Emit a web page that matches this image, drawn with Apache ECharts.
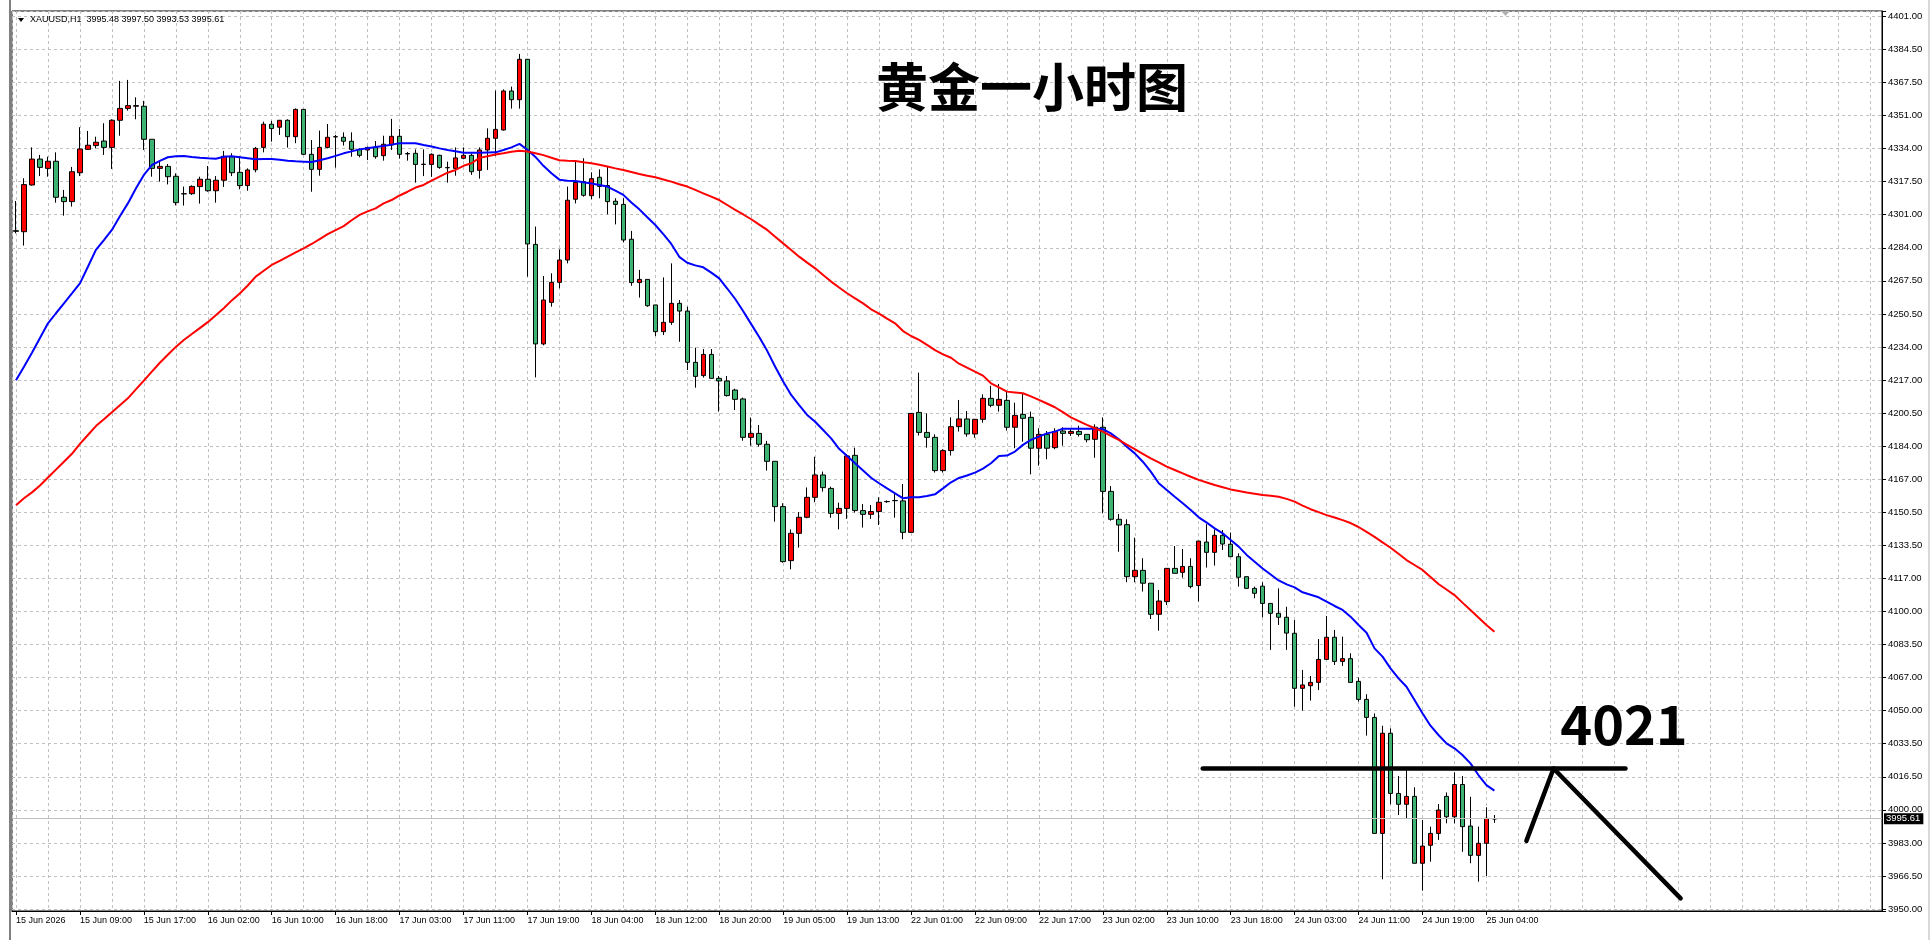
<!DOCTYPE html>
<html>
<head>
<meta charset="utf-8">
<title>XAUUSD H1</title>
<script src="https://cdn.jsdelivr.net/npm/echarts@6/dist/echarts.min.js"></script>
<style>
  html, body { margin: 0; padding: 0; background: #fff; }
  #chart { width: 1932px; height: 940px; }
</style>
</head>
<body>
<div id="chart"></div>
<script>
// time labels, one every 8 hourly bars
const xTickLabels = ['15 Jun 2026', '15 Jun 09:00', '15 Jun 17:00', '16 Jun 02:00', '16 Jun 10:00', '16 Jun 18:00',
  '17 Jun 03:00', '17 Jun 11:00', '17 Jun 19:00', '18 Jun 04:00', '18 Jun 12:00', '18 Jun 20:00',
  '19 Jun 05:00', '19 Jun 13:00', '22 Jun 01:00', '22 Jun 09:00', '22 Jun 17:00', '23 Jun 02:00',
  '23 Jun 10:00', '23 Jun 18:00', '24 Jun 03:00', '24 Jun 11:00', '24 Jun 19:00', '25 Jun 04:00']

// price scale labels, bottom to top
const yTickLabels = ['3950.00', '3966.50', '3983.00', '4000.00', '4016.50', '4033.50', '4050.00', '4067.00',
  '4083.50', '4100.00', '4117.00', '4133.50', '4150.50', '4167.00', '4184.00', '4200.50', '4217.00',
  '4234.00', '4250.50', '4267.50', '4284.00', '4301.00', '4317.50', '4334.00', '4351.00', '4367.50',
  '4384.50', '4401.00']

const opens = [
  4292.7, 4292.2, 4315.8, 4328.9, 4324.2, 4327.8, 4309.6, 4307.4, 4322.0, 4333.8,
  4335.7, 4338.0, 4334.8, 4348.5, 4354.5, 4355.6, 4355.6, 4338.9, 4324.2, 4325.2,
  4320.2, 4311.4, 4311.4, 4315.0, 4318.7, 4312.9, 4318.2, 4330.1, 4322.2, 4315.5,
  4323.5, 4334.8, 4346.5, 4345.0, 4348.5, 4340.2, 4354.0, 4331.3, 4323.7, 4334.8,
  4340.1, 4339.9, 4337.9, 4333.8, 4333.5, 4334.8, 4330.6, 4336.0, 4340.4, 4331.7,
  4331.8, 4326.2, 4326.2, 4330.8, 4324.6, 4324.2, 4329.3, 4330.8, 4323.2, 4333.5,
  4339.4, 4343.6, 4363.3, 4358.9, 4379.3, 4285.8, 4235.5, 4256.5, 4266.6, 4277.9,
  4308.6, 4317.5, 4310.4, 4319.7, 4315.5, 4307.6, 4306.0, 4288.4, 4266.5, 4268.1,
  4255.2, 4241.7, 4246.4, 4256.0, 4252.1, 4226.2, 4219.5, 4230.2, 4218.1, 4216.8,
  4212.2, 4207.7, 4188.3, 4190.3, 4184.8, 4176.2, 4153.3, 4126.0, 4139.8, 4147.9,
  4158.0, 4169.3, 4162.5, 4149.9, 4152.4, 4179.2, 4151.3, 4149.4, 4150.8, 4155.8,
  4156.4, 4156.2, 4140.3, 4200.9, 4190.8, 4188.3, 4171.5, 4181.6, 4193.7, 4197.6,
  4190.0, 4197.4, 4208.0, 4204.5, 4207.0, 4193.4, 4199.9, 4198.4, 4182.8, 4189.8,
  4183.1, 4191.5, 4190.3, 4191.3, 4189.8, 4187.3, 4193.4, 4161.0, 4146.9, 4144.2,
  4117.9, 4121.1, 4114.6, 4098.9, 4105.3, 4122.1, 4120.1, 4123.1, 4113.4, 4135.4,
  4130.2, 4138.8, 4134.3, 4128.0, 4117.9, 4112.0, 4113.1, 4104.4, 4099.4, 4097.4,
  4089.3, 4061.5, 4062.8, 4064.5, 4076.1, 4087.3, 4075.1, 4076.5, 4065.0, 4055.9,
  4046.8, 3988.2, 4038.8, 4008.4, 4002.9, 4006.9, 3973.1, 3982.2, 3988.2, 4006.9,
  3996.6, 4012.9, 3991.9, 3977.1, 3983.2, 3995.48
]

const highs = [
  4307.7, 4319.2, 4334.8, 4331.0, 4330.1, 4332.3, 4313.3, 4324.9, 4345.0, 4343.1,
  4340.2, 4347.0, 4349.0, 4368.4, 4368.9, 4360.1, 4358.3, 4338.9, 4327.6, 4326.4,
  4321.7, 4315.0, 4315.6, 4320.0, 4325.4, 4320.3, 4333.0, 4331.8, 4330.5, 4324.2,
  4335.0, 4347.8, 4348.2, 4348.6, 4349.0, 4354.5, 4354.2, 4338.5, 4343.3, 4346.6,
  4341.1, 4342.4, 4342.4, 4334.3, 4335.2, 4338.0, 4340.7, 4349.2, 4344.1, 4332.5,
  4333.8, 4333.8, 4331.8, 4331.1, 4327.6, 4334.8, 4334.8, 4331.8, 4334.8, 4344.4,
  4363.5, 4364.1, 4365.5, 4382.0, 4379.5, 4294.8, 4269.8, 4271.2, 4283.3, 4315.0,
  4327.6, 4329.3, 4322.2, 4323.7, 4325.1, 4309.1, 4309.1, 4292.6, 4272.9, 4268.1,
  4255.2, 4269.1, 4276.2, 4257.7, 4254.3, 4233.6, 4232.9, 4232.9, 4219.3, 4219.3,
  4212.9, 4208.4, 4198.3, 4194.5, 4186.5, 4176.2, 4155.0, 4141.8, 4150.6, 4163.0,
  4178.5, 4171.0, 4163.4, 4155.3, 4179.9, 4183.1, 4154.6, 4154.1, 4158.0, 4156.4,
  4160.0, 4164.7, 4200.4, 4221.0, 4200.4, 4189.8, 4182.3, 4198.4, 4207.2, 4201.6,
  4197.6, 4210.0, 4214.3, 4215.3, 4211.7, 4205.8, 4210.6, 4201.3, 4192.9, 4191.5,
  4192.9, 4193.4, 4192.6, 4194.2, 4189.8, 4194.9, 4198.4, 4163.7, 4149.6, 4146.9,
  4137.6, 4127.2, 4114.6, 4111.2, 4122.1, 4133.4, 4131.9, 4127.2, 4135.9, 4144.4,
  4141.8, 4141.5, 4140.2, 4129.7, 4117.9, 4112.9, 4115.1, 4104.4, 4112.0, 4102.7,
  4096.0, 4070.8, 4067.7, 4086.4, 4098.0, 4091.0, 4087.6, 4079.2, 4067.0, 4058.5,
  4048.8, 4042.6, 4041.3, 4017.2, 4020.6, 4011.5, 3995.0, 3991.6, 4003.0, 4008.9,
  4019.1, 4017.2, 4006.7, 3991.6, 4001.4, 3997.50
]

const lows = [
  4291.4, 4285.2, 4315.5, 4320.3, 4320.0, 4306.9, 4300.3, 4304.9, 4320.3, 4333.5,
  4334.3, 4331.0, 4323.9, 4340.7, 4353.4, 4349.0, 4333.5, 4320.0, 4317.5, 4316.1,
  4305.5, 4305.4, 4310.8, 4306.4, 4312.4, 4306.9, 4314.8, 4320.3, 4313.6, 4312.9,
  4322.2, 4332.3, 4337.7, 4341.1, 4334.7, 4336.9, 4331.0, 4312.4, 4320.5, 4334.3,
  4324.6, 4335.7, 4330.1, 4329.8, 4328.4, 4329.1, 4328.1, 4333.5, 4329.1, 4328.1,
  4317.0, 4320.3, 4319.9, 4324.0, 4317.0, 4320.5, 4328.8, 4320.9, 4319.0, 4323.4,
  4330.5, 4343.3, 4354.4, 4354.4, 4269.5, 4218.6, 4234.8, 4254.3, 4263.6, 4276.2,
  4306.5, 4309.9, 4308.6, 4309.1, 4301.0, 4295.9, 4286.8, 4264.9, 4258.9, 4254.3,
  4239.5, 4240.0, 4245.1, 4236.6, 4222.3, 4213.4, 4218.5, 4218.1, 4201.3, 4208.9,
  4202.1, 4186.6, 4184.1, 4183.6, 4171.5, 4145.7, 4125.0, 4121.6, 4132.6, 4147.4,
  4155.5, 4160.9, 4147.7, 4141.8, 4147.1, 4150.3, 4142.7, 4147.1, 4144.0, 4155.2,
  4147.7, 4136.8, 4140.0, 4189.2, 4183.1, 4170.5, 4170.5, 4179.1, 4191.2, 4188.6,
  4188.1, 4195.7, 4203.5, 4201.3, 4191.7, 4182.8, 4186.1, 4169.6, 4174.0, 4177.2,
  4182.3, 4184.1, 4189.0, 4188.7, 4185.8, 4178.0, 4149.9, 4146.2, 4130.5, 4115.1,
  4115.1, 4110.4, 4096.5, 4090.6, 4103.6, 4119.6, 4117.4, 4112.0, 4105.3, 4122.5,
  4123.5, 4131.4, 4128.0, 4112.9, 4112.0, 4107.0, 4097.4, 4080.9, 4093.5, 4080.9,
  4052.2, 4050.2, 4055.3, 4060.6, 4076.1, 4073.3, 4072.8, 4064.5, 4054.8, 4037.6,
  3988.2, 3965.0, 4002.9, 3997.5, 3995.8, 3973.1, 3959.3, 3973.9, 3984.9, 3993.3,
  3993.3, 3978.9, 3973.1, 3963.8, 3966.7, 3993.53
]

const closes = [
  4292.4, 4316.0, 4328.9, 4324.7, 4327.8, 4309.6, 4307.4, 4322.5, 4334.0, 4335.9,
  4337.4, 4334.8, 4348.5, 4354.5, 4355.9, 4355.9, 4338.9, 4324.2, 4325.2, 4320.0,
  4306.9, 4311.3, 4315.1, 4318.7, 4312.9, 4318.2, 4330.3, 4322.0, 4315.5, 4323.4,
  4334.3, 4346.5, 4344.3, 4348.5, 4340.2, 4354.0, 4331.3, 4323.7, 4334.8, 4339.9,
  4340.2, 4337.9, 4333.8, 4330.8, 4334.8, 4330.1, 4336.4, 4340.4, 4331.3, 4331.5,
  4326.2, 4326.3, 4331.3, 4324.7, 4324.5, 4329.5, 4330.8, 4322.5, 4333.5, 4339.4,
  4343.9, 4363.3, 4358.9, 4379.3, 4286.0, 4235.5, 4257.7, 4266.6, 4277.9, 4308.1,
  4317.1, 4310.6, 4319.0, 4315.1, 4307.4, 4306.0, 4288.0, 4266.5, 4268.1, 4254.8,
  4241.7, 4246.4, 4256.0, 4252.1, 4226.2, 4219.1, 4230.2, 4218.1, 4216.8, 4209.4,
  4207.5, 4188.3, 4190.3, 4184.8, 4176.2, 4153.3, 4125.5, 4139.8, 4147.9, 4158.0,
  4169.3, 4162.9, 4149.9, 4152.4, 4178.9, 4151.3, 4149.4, 4150.8, 4155.5, 4155.9,
  4156.3, 4140.3, 4200.4, 4190.8, 4188.3, 4171.5, 4181.6, 4193.7, 4197.6, 4190.0,
  4197.4, 4208.0, 4204.5, 4207.5, 4193.4, 4199.4, 4197.9, 4182.8, 4189.8, 4182.8,
  4191.3, 4190.3, 4191.3, 4189.8, 4187.1, 4193.4, 4161.0, 4146.9, 4144.0, 4117.9,
  4121.1, 4114.6, 4098.9, 4105.6, 4122.1, 4119.6, 4123.1, 4112.9, 4135.9, 4130.2,
  4138.8, 4134.4, 4128.0, 4117.6, 4112.0, 4109.5, 4104.4, 4099.4, 4097.4, 4089.4,
  4061.5, 4063.2, 4064.5, 4076.1, 4087.3, 4075.1, 4076.5, 4064.5, 4055.9, 4046.8,
  3988.2, 4038.8, 4008.4, 4002.9, 4006.9, 3973.1, 3981.8, 3988.2, 4000.0, 3996.6,
  4012.9, 3991.6, 3977.1, 3983.2, 3995.8, 3995.61
]

// fast moving average (blue)
const maFast = [
  4217.1, 4224.0, 4231.0, 4238.5, 4245.9, 4251.0, 4256.0, 4261.0, 4266.1, 4274.5,
  4283.0, 4288.0, 4293.1, 4300.0, 4306.5, 4314.0, 4320.9, 4325.9, 4328.0, 4329.8,
  4330.3, 4330.5, 4330.0, 4329.6, 4329.3, 4329.1, 4330.1, 4330.3, 4329.8, 4329.3,
  4328.8, 4328.9, 4328.9, 4328.5, 4328.1, 4327.8, 4327.6, 4327.4, 4328.3, 4329.3,
  4330.5, 4331.8, 4332.8, 4333.8, 4334.4, 4335.0, 4335.5, 4336.2, 4336.9, 4336.9,
  4336.9, 4336.0, 4335.2, 4334.3, 4333.5, 4332.8, 4332.1, 4332.1, 4332.1, 4332.2,
  4332.3, 4333.5, 4334.8, 4336.6, 4333.6, 4330.0, 4325.5, 4321.7, 4318.5, 4318.0,
  4317.8, 4317.2, 4316.6, 4315.8, 4315.0, 4313.0, 4310.8, 4307.0, 4303.5, 4299.5,
  4295.6, 4291.0, 4286.0, 4279.5, 4276.5, 4275.2, 4274.2, 4271.5, 4268.6, 4263.5,
  4258.2, 4252.0, 4245.5, 4239.0, 4232.0, 4224.0, 4216.5, 4209.7, 4204.6, 4199.6,
  4196.2, 4192.0, 4187.8, 4182.5, 4178.9, 4175.2, 4171.5, 4167.9, 4165.1, 4162.5,
  4160.0, 4157.5, 4158.0, 4158.0, 4158.7, 4159.5, 4162.5, 4165.6, 4167.8, 4169.0,
  4170.5, 4172.5, 4175.2, 4178.9, 4179.1, 4181.1, 4184.5, 4187.0, 4188.7, 4190.3,
  4191.2, 4192.7, 4192.7, 4192.7, 4192.7, 4192.7, 4192.5, 4190.3, 4187.3, 4183.6,
  4180.2, 4176.0, 4171.0, 4165.1, 4161.7, 4158.3, 4155.0, 4151.6, 4147.9, 4145.2,
  4142.3, 4139.8, 4136.4, 4133.1, 4128.9, 4125.5, 4122.0, 4119.0, 4116.0, 4114.0,
  4112.5, 4110.0, 4108.8, 4107.5, 4105.3, 4103.1, 4101.1, 4097.7, 4093.5, 4089.6,
  4081.7, 4077.5, 4071.6, 4066.5, 4062.3, 4055.6, 4048.9, 4042.6, 4037.9, 4033.7,
  4031.2, 4027.8, 4023.6, 4017.7, 4012.6, 4009.8
]

// slow moving average (red)
const maSlow = [
  4154.0, 4157.5, 4160.5, 4164.0, 4168.0, 4172.0, 4176.0, 4180.0, 4185.0, 4189.5,
  4194.0, 4197.5, 4201.0, 4204.5, 4208.0, 4212.5, 4217.0, 4221.5, 4226.0, 4230.0,
  4234.0, 4237.5, 4240.5, 4243.5, 4246.5, 4250.0, 4253.5, 4257.5, 4261.0, 4265.0,
  4269.5, 4272.5, 4275.4, 4277.5, 4279.6, 4281.7, 4283.8, 4286.0, 4288.5, 4291.0,
  4293.0, 4295.0, 4298.0, 4300.7, 4302.5, 4304.0, 4306.5, 4308.2, 4310.5, 4312.4,
  4314.5, 4315.8, 4318.0, 4320.0, 4322.0, 4323.4, 4325.5, 4326.8, 4329.5, 4330.3,
  4331.2, 4331.8, 4332.6, 4333.1, 4332.7, 4331.8, 4330.9, 4329.6, 4328.3, 4328.0,
  4327.9, 4327.3, 4326.8, 4326.0, 4325.1, 4324.2, 4323.4, 4322.4, 4321.4, 4320.5,
  4319.7, 4318.6, 4317.5, 4316.2, 4315.0, 4313.3, 4311.6, 4309.9, 4308.2, 4305.7,
  4303.2, 4300.9, 4298.5, 4295.8, 4293.1, 4289.7, 4286.3, 4283.0, 4279.6, 4276.6,
  4273.7, 4270.3, 4267.0, 4264.0, 4261.1, 4258.5, 4256.0, 4253.0, 4250.8, 4248.3,
  4245.9, 4242.0, 4239.5, 4237.5, 4235.0, 4232.4, 4230.2, 4228.5, 4225.5, 4223.5,
  4221.5, 4219.5, 4215.6, 4213.5, 4211.4, 4211.0, 4210.6, 4209.0, 4207.2, 4205.4,
  4203.5, 4201.0, 4198.4, 4196.5, 4194.6, 4192.9, 4191.2, 4189.1, 4187.0, 4184.6,
  4182.3, 4180.0, 4177.7, 4175.6, 4173.5, 4171.8, 4170.1, 4168.4, 4166.8, 4165.5,
  4164.2, 4163.1, 4162.0, 4161.2, 4160.4, 4159.8, 4159.2, 4158.8, 4158.3, 4157.2,
  4155.8, 4153.8, 4152.0, 4150.5, 4149.0, 4147.8, 4146.5, 4145.0, 4143.0, 4140.5,
  4138.0, 4135.2, 4132.5, 4129.5, 4126.3, 4123.8, 4121.3, 4117.8, 4114.2, 4111.4,
  4108.6, 4104.8, 4101.1, 4097.3, 4093.5, 4090.1
]

// hand-drawn annotation, in [bar index, price]
const levelLine = [[148.5, 4021], [201.4, 4021]]
const arrowPath = [[189.0, 3984.4], [192.4, 4021], [208.3, 3955.4]]
const levelText = '4021'
const titleText = '黄金一小时图'
const symbolText = 'XAUUSD,H1'

const SLOTS = 234          // bar slots across the window (incl. empty right shift)
const SCALE_LOW = 3950     // lowest price label
const SCALE_HIGH = 4401    // highest price label
const STEP = (SCALE_HIGH - SCALE_LOW) / 27
const PRICE_BOTTOM = 3948.99
const PRICE_TOP = 4403.71

const FONT = 'Liberation Sans'
const slots = Array.from({ length: SLOTS }, (_, i) => i)
const candles = opens.map((o, i) => [o, closes[i], lows[i], highs[i]])
const last = opens.length - 1
const header = symbolText + '  ' + [opens[last], highs[last], lows[last], closes[last]].map(v => v.toFixed(2)).join(' ')
const isTimeTick = i => i % 8 === 0 && i <= last

const chart = echarts.init(document.getElementById('chart'))
chart.setOption({
  animation: false,
  backgroundColor: '#fff',
  grid: {
    left: 12, right: 50, top: 11, bottom: 29,
    show: true, borderColor: '#000', borderWidth: 1, backgroundColor: '#fff',
    outerBoundsMode: 'none'
  },
  xAxis: [
    {
      type: 'category',
      data: slots,
      boundaryGap: true,
      axisLine: { show: true, onZero: false, lineStyle: { color: '#000', width: 1 } },
      axisTick: { show: true, alignWithLabel: true, interval: isTimeTick, length: 4, lineStyle: { color: '#000' } },
      axisLabel: {
        interval: isTimeTick,
        formatter: (v, i) => xTickLabels[i / 8] || '',
        align: 'left', margin: 5, color: '#000', fontFamily: FONT, fontSize: 9
      },
      splitLine: { show: false }
    },
    {
      type: 'value', position: 'top',
      min: -0.5, max: SLOTS - 0.5, minInterval: 4, maxInterval: 4,
      axisLine: { show: false }, axisTick: { show: false }, axisLabel: { show: false },
      splitLine: { show: true, lineStyle: { color: '#c0c0c0', width: 1, type: [3, 3] } }
    }
  ],
  yAxis: [
    { type: 'value', min: PRICE_BOTTOM, max: PRICE_TOP, show: false, splitLine: { show: false } },
    {
      type: 'value', position: 'right',
      min: (PRICE_BOTTOM - SCALE_LOW) / STEP, max: (PRICE_TOP - SCALE_LOW) / STEP,
      minInterval: 1, maxInterval: 1,
      axisLine: { show: true, lineStyle: { color: '#000' } },
      axisTick: { show: true, length: 4, lineStyle: { color: '#000' } },
      axisLabel: {
        margin: 6, color: '#000', fontFamily: FONT, fontSize: 9.5,
        formatter: v => {
          const k = Math.round(v)
          return Math.abs(v - k) < 0.01 && yTickLabels[k] ? yTickLabels[k] : ''
        }
      },
      splitLine: { show: true, lineStyle: { color: '#c0c0c0', width: 1, type: [3, 3] } }
    }
  ],
  series: [
    {
      type: 'candlestick',
      xAxisIndex: 0, yAxisIndex: 0,
      data: candles,
      barWidth: 5,
      z: 3,
      itemStyle: {
        color: '#ff0000', color0: '#3cb371',
        borderColor: '#000', borderColor0: '#000', borderColorDoji: '#000', borderWidth: 1
      },
      markLine: {
        silent: true,
        symbol: ['none', 'none'],
        lineStyle: { color: '#c0c0c0', width: 1, type: 'solid' },
        label: {
          position: 'end', distance: 2,
          formatter: closes[last].toFixed(2),
          color: '#fff', backgroundColor: '#000', padding: [1, 3, 0, 2],
          fontFamily: FONT, fontSize: 9.5
        },
        data: [{ yAxis: closes[last] }]
      }
    },
    {
      type: 'line', data: maFast, xAxisIndex: 0, yAxisIndex: 0, z: 4,
      symbol: 'none', lineStyle: { color: '#0000ff', width: 2 }
    },
    {
      type: 'line', data: maSlow, xAxisIndex: 0, yAxisIndex: 0, z: 4,
      symbol: 'none', lineStyle: { color: '#ff0000', width: 2 }
    },
    {
      type: 'line', data: levelLine, xAxisIndex: 1, yAxisIndex: 0, z: 6,
      symbol: 'none', lineStyle: { color: '#000', width: 4.5, cap: 'round' }
    },
    {
      type: 'line', data: arrowPath, xAxisIndex: 1, yAxisIndex: 0, z: 6,
      symbol: 'none', lineStyle: { color: '#000', width: 4.5, cap: 'round', join: 'round' }
    }
  ],
  graphic: [
    { type: 'rect', shape: { x: 9, y: 0, width: 2, height: 940 }, style: { fill: '#808080' }, silent: true },
    { type: 'rect', shape: { x: 1928, y: 0, width: 2, height: 940 }, style: { fill: '#d8d8d8' }, silent: true },
    { type: 'polygon', shape: { points: [[18, 18], [24, 18], [21, 22]] }, style: { fill: '#000' }, silent: true },
    { type: 'polygon', shape: { points: [[1501, 11], [1510, 11], [1505.5, 16]] }, style: { fill: '#b0b0b0' }, silent: true },
    {
      type: 'text', x: 30, y: 20, silent: true, z: 10,
      style: { text: header, fill: '#000', font: '9px "' + FONT + '"', verticalAlign: 'middle' }
    },
    {
      type: 'text', x: 1032, y: 87, silent: true, z: 10,
      style: { text: titleText, fill: '#000', font: 'bold 52px "Noto Sans CJK SC"', align: 'center', verticalAlign: 'middle' }
    },
    {
      type: 'text', x: 1624, y: 724, silent: true, z: 10,
      style: { text: levelText, fill: '#000', font: 'bold 54px "Noto Sans CJK SC"', align: 'center', verticalAlign: 'middle' }
    }
  ]
})
</script>
</body>
</html>
